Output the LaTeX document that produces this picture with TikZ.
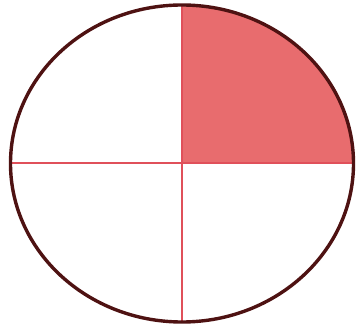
\documentclass[tikz,border=0pt]{standalone}
\definecolor{rimcol}{HTML}{4E1212}
\definecolor{linecol}{HTML}{E0505A}
\definecolor{fillcol}{HTML}{E86C6E}
\tikzset{rim/.style={draw=rimcol,line width=3.4pt},
  divider/.style={draw=linecol,line width=1.4pt},
  quarter/.style={fill=fillcol}}
\begin{document}
\begin{tikzpicture}[x=1pt,y=1pt]
\useasboundingbox (0,0) rectangle (356,332);
\coordinate (c) at (182,169);
\coordinate (r) at (353.5,169);
\coordinate (l) at (10.5,169);
\coordinate (t) at (182,326.5);
\coordinate (b) at (182,9);
\fill[quarter] (c) -- (r) arc[start angle=0,end angle=90,x radius=171.5,y radius=157.5] -- cycle;
\draw[divider] (l) -- (r);
\draw[divider] (t) -- (b);
\draw[rim] (182,168.5) ellipse[x radius=171.5,y radius=158.5];
\end{tikzpicture}
\end{document}
